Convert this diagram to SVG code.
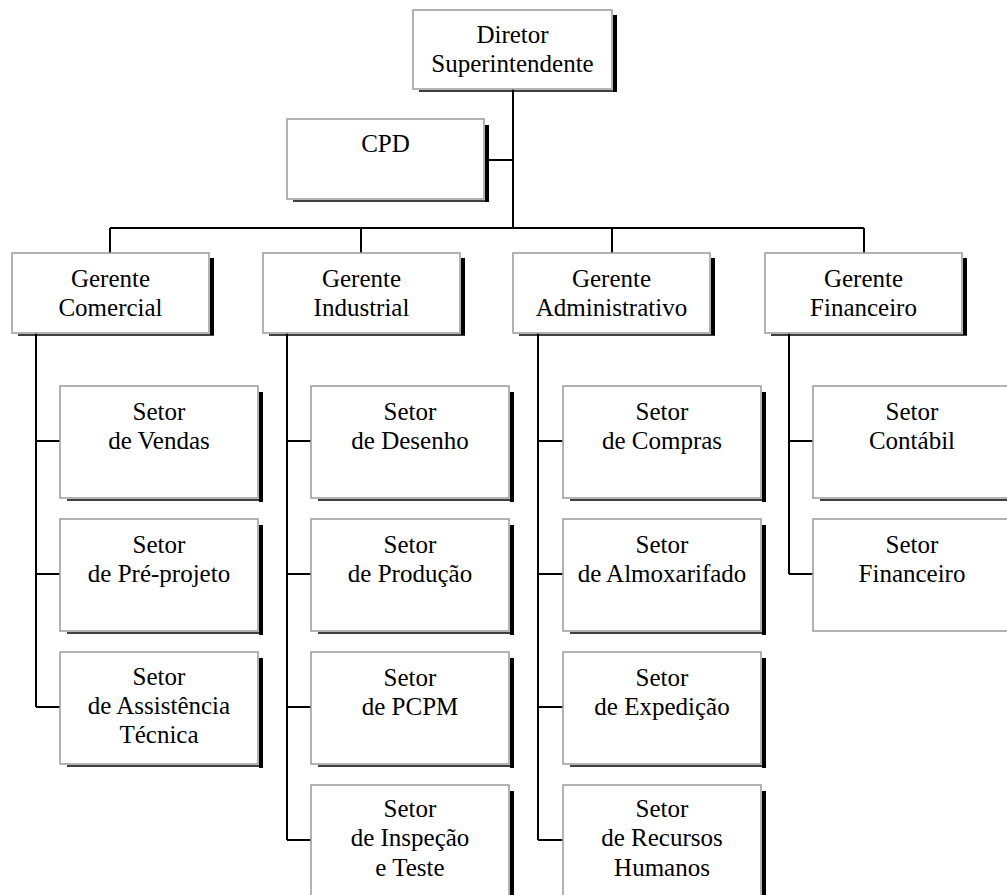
<svg xmlns="http://www.w3.org/2000/svg" width="1007" height="895" viewBox="0 0 1007 895">
<style>
.box{fill:#fff;stroke:#a0a0a0;stroke-width:1.6}
.sh{fill:#000}
.shl{stroke:#000;stroke-width:1.4}
.t{font-family:"Liberation Serif","Times New Roman",serif;font-size:25px;fill:#000;text-anchor:middle}
.c{stroke:#000;stroke-width:2;fill:none}
</style>
<rect width="1007" height="895" fill="#fff"/>
<g id="connectors">
<path class="c" d="M513 89V228M489 160H513M110 228H864M110 228V253M361 228V253M612 228V253M864 228V253"/>
<path class="c" d="M36 333V707M36 441H60M36 574H60M36 707H60"/>
<path class="c" d="M287 333V840M287 441H311M287 574H311M287 707H311M287 840H311"/>
<path class="c" d="M538 333V840M538 441H563M538 574H563M538 707H563M538 840H563"/>
<path class="c" d="M789 333V574M789 441H813M789 574H813"/>
</g>
<g id="diretor">
<rect class="sh" x="613" y="15" width="4" height="77"/><line class="shl" x1="419" y1="91" x2="617" y2="91"/>
<rect class="box" x="413" y="10" width="199" height="79"/>
<text class="t" x="512.5" y="43">Diretor</text><text class="t" x="512.5" y="72">Superintendente</text>
</g>
<g id="cpd">
<rect class="sh" x="485" y="125" width="4" height="77"/><line class="shl" x1="293" y1="201" x2="489" y2="201"/>
<rect class="box" x="287" y="119" width="197" height="80"/>
<text class="t" x="385.5" y="152">CPD</text>
</g>
<g id="g-comercial">
<rect class="sh" x="210" y="258" width="4" height="77"/><line class="shl" x1="18" y1="335" x2="214" y2="335"/>
<rect class="box" x="12" y="253" width="197" height="80"/>
<text class="t" x="110.5" y="287">Gerente</text><text class="t" x="110.5" y="316">Comercial</text>
</g>
<g id="g-industrial">
<rect class="sh" x="461" y="258" width="4" height="77"/><line class="shl" x1="269" y1="335" x2="465" y2="335"/>
<rect class="box" x="263" y="253" width="197" height="80"/>
<text class="t" x="361.5" y="287">Gerente</text><text class="t" x="361.5" y="316">Industrial</text>
</g>
<g id="g-administrativo">
<rect class="sh" x="711" y="258" width="4" height="77"/><line class="shl" x1="519" y1="335" x2="715" y2="335"/>
<rect class="box" x="513" y="253" width="197" height="80"/>
<text class="t" x="611.5" y="287">Gerente</text><text class="t" x="611.5" y="316">Administrativo</text>
</g>
<g id="g-financeiro">
<rect class="sh" x="963" y="258" width="4" height="77"/><line class="shl" x1="771" y1="335" x2="967" y2="335"/>
<rect class="box" x="765" y="253" width="197" height="80"/>
<text class="t" x="863.5" y="287">Gerente</text><text class="t" x="863.5" y="316">Financeiro</text>
</g>
<g id="s-vendas">
<rect class="sh" x="259" y="392" width="4" height="110"/><line class="shl" x1="67" y1="500" x2="263" y2="500"/>
<rect class="box" x="60" y="386" width="198" height="112"/>
<text class="t" x="159" y="420">Setor</text><text class="t" x="159" y="449">de Vendas</text>
</g>
<g id="s-preprojeto">
<rect class="sh" x="259" y="525" width="4" height="110"/><line class="shl" x1="67" y1="633" x2="263" y2="633"/>
<rect class="box" x="60" y="519" width="198" height="112"/>
<text class="t" x="159" y="553">Setor</text><text class="t" x="159" y="582">de Pré-projeto</text>
</g>
<g id="s-assistencia">
<rect class="sh" x="259" y="658" width="4" height="110"/><line class="shl" x1="67" y1="766" x2="263" y2="766"/>
<rect class="box" x="60" y="652" width="198" height="112"/>
<text class="t" x="159" y="685">Setor</text><text class="t" x="159" y="714">de Assistência</text><text class="t" x="159" y="743">Técnica</text>
</g>
<g id="s-desenho">
<rect class="sh" x="510" y="392" width="4" height="110"/><line class="shl" x1="318" y1="500" x2="514" y2="500"/>
<rect class="box" x="311" y="386" width="198" height="112"/>
<text class="t" x="410" y="420">Setor</text><text class="t" x="410" y="449">de Desenho</text>
</g>
<g id="s-producao">
<rect class="sh" x="510" y="525" width="4" height="110"/><line class="shl" x1="318" y1="633" x2="514" y2="633"/>
<rect class="box" x="311" y="519" width="198" height="112"/>
<text class="t" x="410" y="553">Setor</text><text class="t" x="410" y="582">de Produção</text>
</g>
<g id="s-pcpm">
<rect class="sh" x="510" y="658" width="4" height="110"/><line class="shl" x1="318" y1="766" x2="514" y2="766"/>
<rect class="box" x="311" y="652" width="198" height="112"/>
<text class="t" x="410" y="686">Setor</text><text class="t" x="410" y="715">de PCPM</text>
</g>
<g id="s-inspecao">
<rect class="sh" x="510" y="791" width="4" height="110"/>
<rect class="box" x="311" y="785" width="198" height="112"/>
<text class="t" x="410" y="817">Setor</text><text class="t" x="410" y="846">de Inspeção</text><text class="t" x="410" y="876">e Teste</text>
</g>
<g id="s-compras">
<rect class="sh" x="762" y="392" width="4" height="110"/><line class="shl" x1="570" y1="500" x2="766" y2="500"/>
<rect class="box" x="563" y="386" width="198" height="112"/>
<text class="t" x="662" y="420">Setor</text><text class="t" x="662" y="449">de Compras</text>
</g>
<g id="s-almoxarifado">
<rect class="sh" x="762" y="525" width="4" height="110"/><line class="shl" x1="570" y1="633" x2="766" y2="633"/>
<rect class="box" x="563" y="519" width="198" height="112"/>
<text class="t" x="662" y="553">Setor</text><text class="t" x="662" y="582">de Almoxarifado</text>
</g>
<g id="s-expedicao">
<rect class="sh" x="762" y="658" width="4" height="110"/><line class="shl" x1="570" y1="766" x2="766" y2="766"/>
<rect class="box" x="563" y="652" width="198" height="112"/>
<text class="t" x="662" y="686">Setor</text><text class="t" x="662" y="715">de Expedição</text>
</g>
<g id="s-rh">
<rect class="sh" x="762" y="791" width="4" height="110"/>
<rect class="box" x="563" y="785" width="198" height="112"/>
<text class="t" x="662" y="817">Setor</text><text class="t" x="662" y="846">de Recursos</text><text class="t" x="662" y="876">Humanos</text>
</g>
<g id="s-contabil">
<line class="shl" x1="820" y1="500" x2="1016" y2="500"/>
<rect class="box" x="813" y="386" width="198" height="112"/>
<text class="t" x="912" y="420">Setor</text><text class="t" x="912" y="449">Contábil</text>
</g>
<g id="s-financeiro">
<rect class="box" x="813" y="519" width="198" height="112"/>
<text class="t" x="912" y="553">Setor</text><text class="t" x="912" y="582">Financeiro</text>
</g>
</svg>
